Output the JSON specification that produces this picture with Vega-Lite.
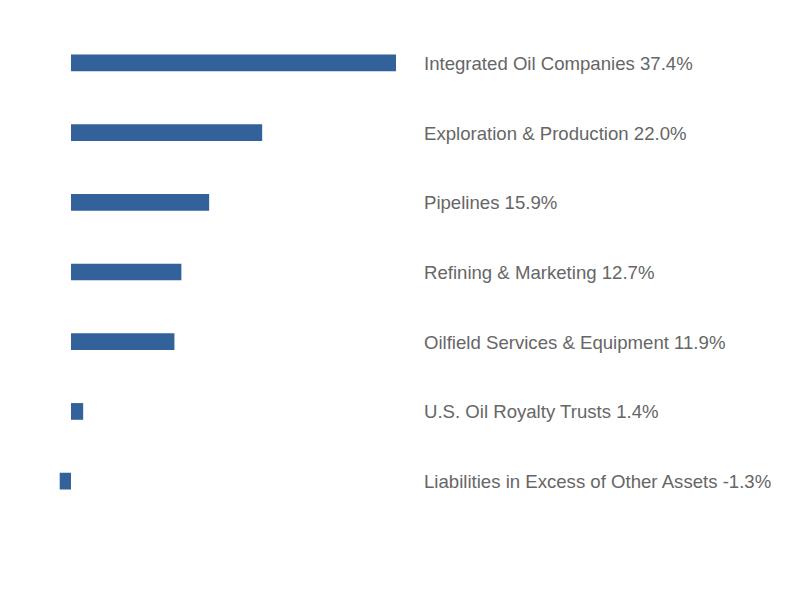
{
  "$schema": "https://vega.github.io/schema/vega-lite/v6.json",
  "width": 792,
  "height": 488,
  "autosize": {"type": "none"},
  "padding": {"top": 28, "bottom": 84, "left": 0, "right": 0},
  "background": "white",
  "config": {"view": {"stroke": null}},
  "data": {"values": [
    {"sector": "Integrated Oil Companies", "value": 37.4, "label": "Integrated Oil Companies 37.4%"},
    {"sector": "Exploration & Production", "value": 22.0, "label": "Exploration & Production 22.0%"},
    {"sector": "Pipelines", "value": 15.9, "label": "Pipelines 15.9%"},
    {"sector": "Refining & Marketing", "value": 12.7, "label": "Refining & Marketing 12.7%"},
    {"sector": "Oilfield Services & Equipment", "value": 11.9, "label": "Oilfield Services & Equipment 11.9%"},
    {"sector": "U.S. Oil Royalty Trusts", "value": 1.4, "label": "U.S. Oil Royalty Trusts 1.4%"},
    {"sector": "Liabilities in Excess of Other Assets", "value": -1.3, "label": "Liabilities in Excess of Other Assets -1.3%"}
  ]},
  "encoding": {
    "y": {"field": "sector", "type": "nominal", "sort": null, "axis": null,
          "scale": {"paddingInner": 0.76, "paddingOuter": 0.38}}
  },
  "layer": [
    {
      "mark": {"type": "bar", "color": "#336199"},
      "encoding": {
        "x": {"field": "value", "type": "quantitative", "axis": null,
              "scale": {"domain": [-8.17, 82.97], "nice": false, "zero": false}}
      }
    },
    {
      "mark": {"type": "text", "align": "left", "baseline": "middle", "font": "Liberation Sans", "fontSize": 18.6, "color": "#666666", "dy": 1},
      "encoding": {
        "x": {"datum": 40.62, "type": "quantitative"},
        "text": {"field": "label"}
      }
    }
  ]
}
